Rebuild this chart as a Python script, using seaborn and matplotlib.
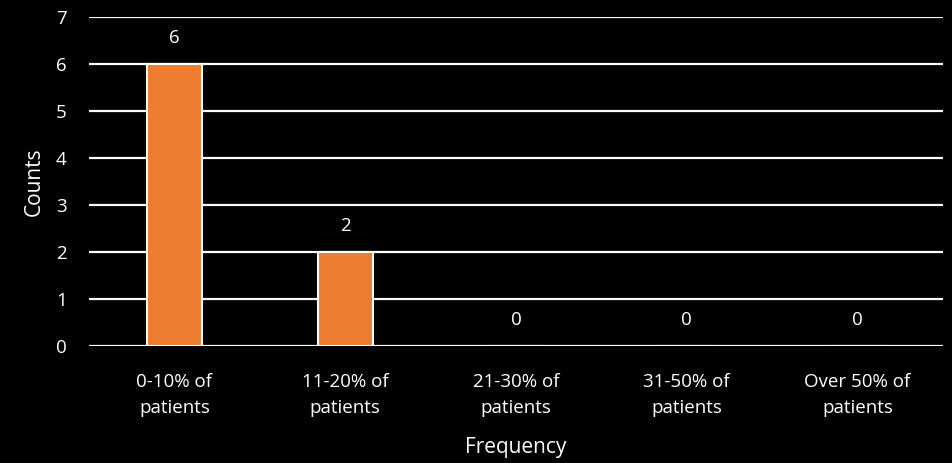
import matplotlib
matplotlib.use("Agg")
import matplotlib.pyplot as plt
import seaborn as sns
import pandas as pd

# Number of adverse-event frequency bands reported
categories = ["0-10% of\npatients", "11-20% of\npatients", "21-30% of\npatients",
              "31-50% of\npatients", "Over 50% of\npatients"]
counts = [6, 2, 0, 0, 0]
yticks = [0, 1, 2, 3, 4, 5, 6, 7]

df = pd.DataFrame({"Frequency": categories, "Counts": counts})

sns.set_theme(style="dark")
plt.rcParams["font.family"] = ["Open Sans", "DejaVu Sans"]

fig = plt.figure(figsize=(9.53, 4.63), dpi=100, facecolor="black")
ax = fig.add_axes([0.0934, 0.2527, 0.896, 0.7106])
ax.set_facecolor("black")

ax.set_axisbelow(True)
ax.yaxis.grid(True, color="white", linewidth=1.6)
ax.xaxis.grid(False)

sns.barplot(data=df, x="Frequency", y="Counts", color="#ED7D31", width=0.32,
            edgecolor="white", linewidth=1.5, saturation=1, ax=ax)

ax.set_ylim(0, 7)
ax.set_xlim(-0.5, len(categories) - 0.5)
ax.set_yticks(yticks)
for s in ax.spines.values():
    s.set_visible(False)

ax.tick_params(axis="both", colors="white", length=0, labelsize=13.5)
ax.tick_params(axis="y", pad=16)
ax.tick_params(axis="x", pad=19.5)
for lab in ax.get_xticklabels():
    lab.set_linespacing(1.6)

for i, v in enumerate(counts):
    ax.annotate(str(v), (i, v), xytext=(0, 19), textcoords="offset points",
                ha="center", va="center", color="white", fontsize=13.5)

ax.set_xlabel("Frequency", color="white", fontsize=15, labelpad=14)
ax.set_ylabel("Counts", color="white", fontsize=15, labelpad=8)

fig.savefig("out.png", dpi=100, facecolor="black")
